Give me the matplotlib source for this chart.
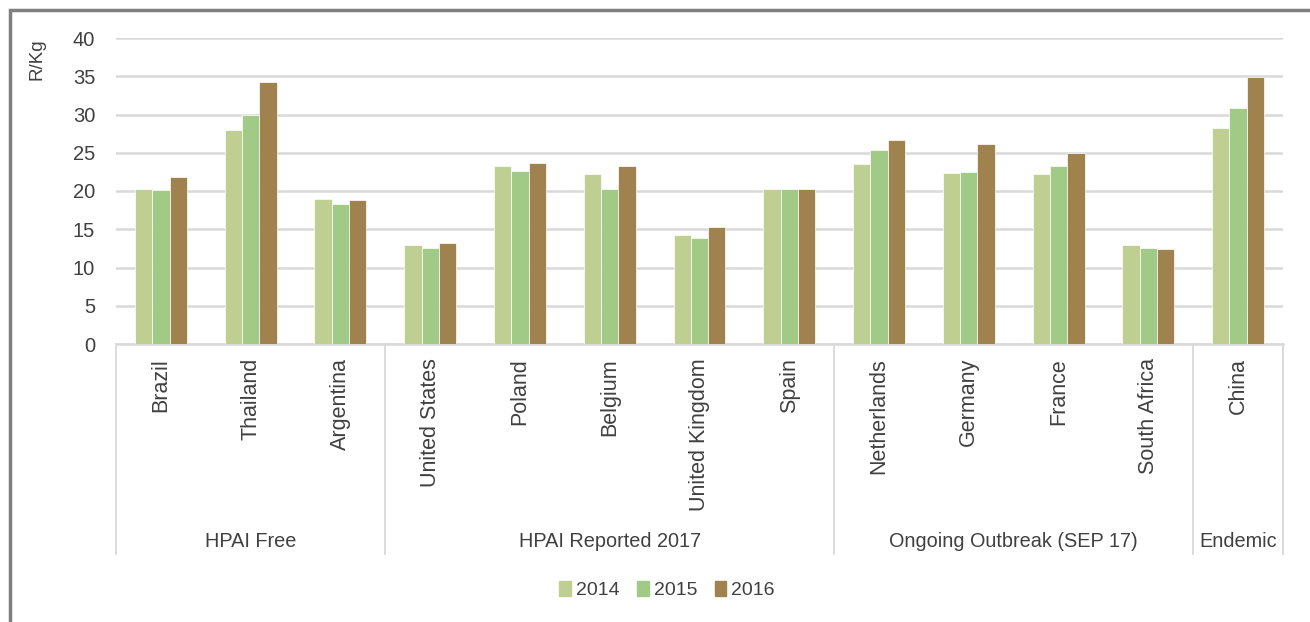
import matplotlib
matplotlib.use("Agg")
import matplotlib.pyplot as plt
import matplotlib.transforms as mtransforms
from matplotlib.patches import Patch, Rectangle
import numpy as np

# data
countries = ["Brazil", "Thailand", "Argentina",
             "United States", "Poland", "Belgium", "United Kingdom", "Spain",
             "Netherlands", "Germany", "France", "South Africa",
             "China"]
groups = ["HPAI Free", "HPAI Reported 2017", "Ongoing Outbreak (SEP 17)", "Endemic"]
group_sizes = [3, 5, 4, 1]
years = ["2014", "2015", "2016"]
vals_2014 = [20.3, 28.0, 18.9, 12.9, 23.3, 22.2, 14.3, 20.3, 23.5, 22.3, 22.2, 12.9, 28.2]
vals_2015 = [20.1, 30.0, 18.3, 12.6, 22.6, 20.3, 13.8, 20.2, 25.4, 22.5, 23.3, 12.6, 30.9]
vals_2016 = [21.8, 34.3, 18.8, 13.2, 23.7, 23.3, 15.3, 20.2, 26.7, 26.1, 25.0, 12.4, 34.9]
yticks = [0, 5, 10, 15, 20, 25, 30, 35, 40]

colors = ["#bfcf91", "#a2ca87", "#a0824f"]
txt = "#404040"
grid_c = "#d9d9d9"

plt.rcParams['font.family'] = ['Liberation Sans', 'DejaVu Sans']

W, H = 1310, 622
fig = plt.figure(figsize=(W / 100, H / 100), dpi=100)

# outer chart border (only top and left visible in the reference)
fig.patches.append(Rectangle((10 / W, -0.1), 1.2, 1 - 10 / H + 0.1,
                             transform=fig.transFigure, fill=False,
                             edgecolor="#7f7f7f", linewidth=2.5))

ax = fig.add_axes([116 / W, 1 - 344 / H, (1283 - 116) / W, (344 - 38) / H])

x = np.arange(len(countries))
w = 0.193
for j, vals in enumerate([vals_2014, vals_2015, vals_2016]):
    ax.bar(x + (j - 1) * w, vals, width=w, color=colors[j],
           edgecolor="white", linewidth=0.5, zorder=3, label=years[j])

ax.set_xlim(-0.5, len(countries) - 0.5)
ax.set_ylim(0, 40)
ax.set_yticks(yticks)
ax.yaxis.grid(True, color=grid_c, linewidth=1.8, zorder=0)
for s in ["top", "right", "left"]:
    ax.spines[s].set_visible(False)
ax.spines["bottom"].set_color(grid_c)
ax.spines["bottom"].set_linewidth(1.8)
ax.tick_params(axis="y", length=0, labelsize=14.5, labelcolor=txt, pad=15)
ax.set_xticks(x)
ax.set_xticklabels(countries, rotation=90, fontsize=15.5, color=txt, va="top")
ax.tick_params(axis="x", length=0, pad=10)

ax.text(-0.068, 1.0, "R/Kg", transform=ax.transAxes, rotation=90,
        ha="center", va="top", fontsize=13.5, color=txt)

# group separators and labels below the axis
trans = mtransforms.blended_transform_factory(ax.transData, ax.transAxes)
bounds = np.concatenate([[0], np.cumsum(group_sizes)]) - 0.5
for b in bounds:
    ax.plot([b, b], [0, -0.685], transform=trans, color=grid_c,
            linewidth=1.3, clip_on=False)
for g, lo, hi in zip(groups, bounds[:-1], bounds[1:]):
    ax.text((lo + hi) / 2, -0.645, g, transform=trans, ha="center",
            va="center", fontsize=14.3, color=txt)

handles = [Patch(color=c, label=y) for c, y in zip(colors, years)]
fig.legend(handles=handles, loc="center", bbox_to_anchor=(667 / W, 1 - 590 / H),
           ncol=3, frameon=False, fontsize=14, handlelength=0.6,
           handleheight=0.8, handletextpad=0.25, columnspacing=0.9,
           labelcolor=txt)

fig.savefig("out.png", dpi=100)
